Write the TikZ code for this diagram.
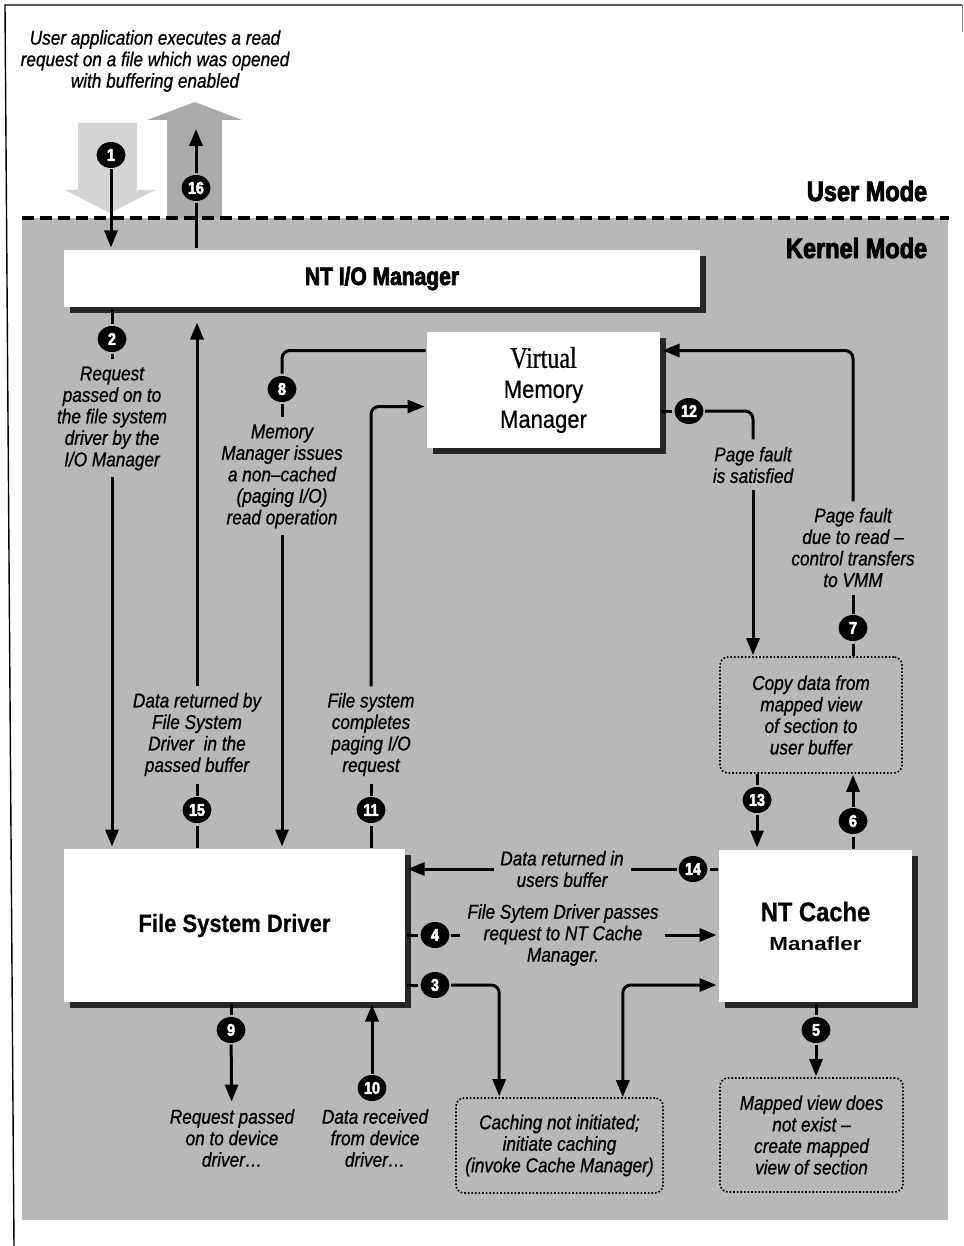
\documentclass[tikz,border=0pt]{standalone}
\usepackage{fontspec}
\setmainfont{Liberation Sans}
\newfontfamily\notefont{Liberation Sans}[FakeStretch=0.86,FakeBold=0.8]
\newfontfamily\headfont{Liberation Sans}[FakeStretch=0.84,BoldFeatures={FakeBold=3}]
\newfontfamily\boxfont{Liberation Sans}[FakeStretch=0.88,FakeBold=0.6]
\newfontfamily\wideboxfont{Liberation Sans}[FakeStretch=1.18]
\newfontfamily\narrowserif{Liberation Serif}[FakeStretch=0.8,FakeBold=0.6]
\usetikzlibrary{arrows.meta,shadows,shapes.geometric}

\begin{document}
\begin{tikzpicture}[x=1pt,y=-1pt,shorten >=1pt,line width=3pt,
  >={Triangle[length=17pt,width=13pt]},
  box/.style={fill=white,inner sep=0pt,align=center,
    drop shadow={shadow xshift=6pt,shadow yshift=-6pt,fill=black!85,opacity=1}},
  note/.style={align=center,inner sep=5pt,
    font=\notefont\itshape\fontsize{20}{21.5}\selectfont},
  dotbox/.style={note,draw,dotted,line width=1.6pt,rounded corners=8pt},
  num/.style={ellipse,fill=black,text=white,minimum width=29pt,minimum height=26pt,
    inner sep=0pt,font=\headfont\bfseries\fontsize{17}{17}\selectfont},
  mode/.style={anchor=east,font=\headfont\bfseries\fontsize{28}{28}\selectfont},
  elbow/.style={rounded corners=8pt}]
  \useasboundingbox (0,0) rectangle (963,1246);

  % page frame and kernel area
  \fill[black!28] (22,218) rectangle (948,1220);
  \draw[line width=1.4pt] (14,1246) -- (5,5) -- (963,5);
  \draw[line width=0.6pt,black!50] (962,5) -- (962,33);

  % big grey arrows across the mode line
  \fill[black!17] (78,123) -- (137,123) -- (137,190) -- (155,190) -- (110,213)
    -- (65,190) -- (78,190) -- cycle;
  \fill[black!33] (167,218) -- (167,120) -- (147,120) -- (195,102) -- (242,120)
    -- (222,120) -- (222,218) -- cycle;
  \draw[line width=4pt,dash pattern=on 12pt off 6pt] (22,218) -- (950,218);

  \path
  node[note] (user) at (155,61)
  {User application executes a read\\request on a file which was opened\\with buffering enabled}
  node[mode] (umode) at (932,191) {User Mode}
  node[mode] (kmode) at (932,248) {Kernel Mode}

  node[box,minimum width=636pt,minimum height=57pt,
    font=\headfont\bfseries\fontsize{25}{25}\selectfont] (io) at (382,278.5) {NT I/O Manager}
  node[box,minimum width=233pt,minimum height=116pt,
    font=\boxfont\fontsize{25}{30}\selectfont] (vmm) at (543.5,390)
  {{\narrowserif\fontsize{30}{30}\selectfont Virtual}\\Memory\\Manager}
  node[box,minimum width=341pt,minimum height=153pt,
    font=\boxfont\bfseries\fontsize{25}{25}\selectfont] (fsd) at (234.5,925.5) {File System Driver}
  node[box,minimum width=193pt,minimum height=152pt,
    font=\fontsize{19}{29}\selectfont] (cache) at (815.5,926)
  {{\boxfont\bfseries\fontsize{27}{29}\selectfont NT Cache}\\{\wideboxfont\bfseries Manafler}}

  node[dotbox,minimum width=182pt,minimum height=116pt] (copy) at (811,715)
  {Copy data from\\mapped view\\of section to\\user buffer}
  node[dotbox,minimum width=207pt,minimum height=95pt] (caching) at (559.5,1145.5)
  {Caching not initiated;\\initiate caching\\(invoke Cache Manager)}
  node[dotbox,minimum width=183pt,minimum height=114pt] (mapped) at (811.5,1135)
  {Mapped view does\\not exist –\\create mapped\\view of section}

  node[note] (t_2) at (112,418.5) {Request\\passed on to\\the file system\\driver by the\\I/O Manager}
  node[note] (t_8) at (282,476.5) {Memory\\Manager issues\\a non–cached\\(paging I/O)\\read operation}
  node[note] (t_12) at (753,465) {Page fault\\is satisfied}
  node[note] (t_7) at (853,547.5) {Page fault\\due to read –\\control transfers\\to VMM}
  node[note] (t_15) at (197,734.5) {Data returned by\\File System\\Driver~ in the\\passed buffer}
  node[note] (t_11) at (371,734.5) {File system\\completes\\paging I/O\\request}
  node[note] (t_14) at (562,869) {Data returned in\\users buffer}
  node[note] (t_4) at (563,935) {File Sytem Driver passes\\request to NT Cache\\Manager.}
  node[note] (t_9) at (232,1138) {Request passed\\on to device\\driver\dots}
  node[note] (t_10) at (375,1138) {Data received\\from device\\driver\dots}

  node[num] (s_1) at (111,155) {1}
  node[num] (s_16) at (196,188) {16}
  node[num] (s_2) at (112,339) {2}
  node[num] (s_8) at (282,389) {8}
  node[num] (s_12) at (689,411) {12}
  node[num] (s_7) at (853,628) {7}
  node[num] (s_15) at (197,810) {15}
  node[num] (s_11) at (371,810) {11}
  node[num] (s_13) at (757,800) {13}
  node[num] (s_6) at (853,821) {6}
  node[num] (s_14) at (693,869) {14}
  node[num] (s_4) at (435,935) {4}
  node[num] (s_3) at (435,985) {3}
  node[num] (s_9) at (231,1030) {9}
  node[num] (s_10) at (372,1088) {10}
  node[num] (s_5) at (816,1030) {5}
  ;
  \coordinate (tip_16) at (196,128);

  % plain legs
  \path[draw]
  (io.north -| s_16) edge (s_16)
  (io.south -| s_2) edge (s_2)
  (s_2) edge (t_2)
  (s_8) edge (t_8)
  (fsd.north -| s_15) edge (s_15)
  (s_15) edge (t_15)
  (fsd.north -| s_11) edge (s_11)
  (s_11) edge (t_11)
  (vmm.east |- s_12) edge (s_12)
  (copy.north -| s_7) edge (s_7)
  (s_7) edge (t_7)
  (copy.south -| s_13) edge (s_13)
  (cache.north -| s_6) edge (s_6)
  (cache.west |- s_14) edge (s_14)
  (s_14) edge (t_14)
  (fsd.east |- s_4) edge (s_4)
  (s_4) edge (t_4)
  (fsd.east |- s_3) edge (s_3)
  (cache.south -| s_5) edge (s_5)
  (fsd.south -| s_9) edge (s_9)
  ;
  % arrow legs
  \path[->]
  (s_1) edge (s_1 |- io.north)
  (s_16) edge (tip_16)
  (t_2) edge (t_2 |- fsd.north)
  (t_8) edge (t_8 |- fsd.north)
  (t_15) edge[shorten >=14pt] (t_15 |- io.south)
  (t_12) edge (t_12 |- copy.north)
  (s_13) edge (s_13 |- cache.north)
  (s_6) edge (s_6 |- copy.south)
  (t_14) edge (t_14 -| fsd.east)
  (t_4) edge (t_4 -| cache.west)
  (s_5) edge (s_5 |- mapped.north)
  (s_9) edge (t_9)
  (s_10) edge (s_10 |- fsd.south)
  ;
  \draw[elbow] ([yshift=-20pt]vmm.north west) -| (s_8.north);
  \draw[->,elbow] (t_11.north) |- ([yshift=-76pt]vmm.north west);
  \draw[elbow] (s_12.east) -| (t_12.north);
  \draw[->,elbow] (t_7.north) |- ([yshift=-20pt]vmm.north east);
  \draw[->,elbow] (s_3.east) -| ([xshift=44pt]caching.north west);
  \draw[<->,elbow] ([xshift=-41pt]caching.north east) |- (cache.west |- s_3);
\end{tikzpicture}
\end{document}
